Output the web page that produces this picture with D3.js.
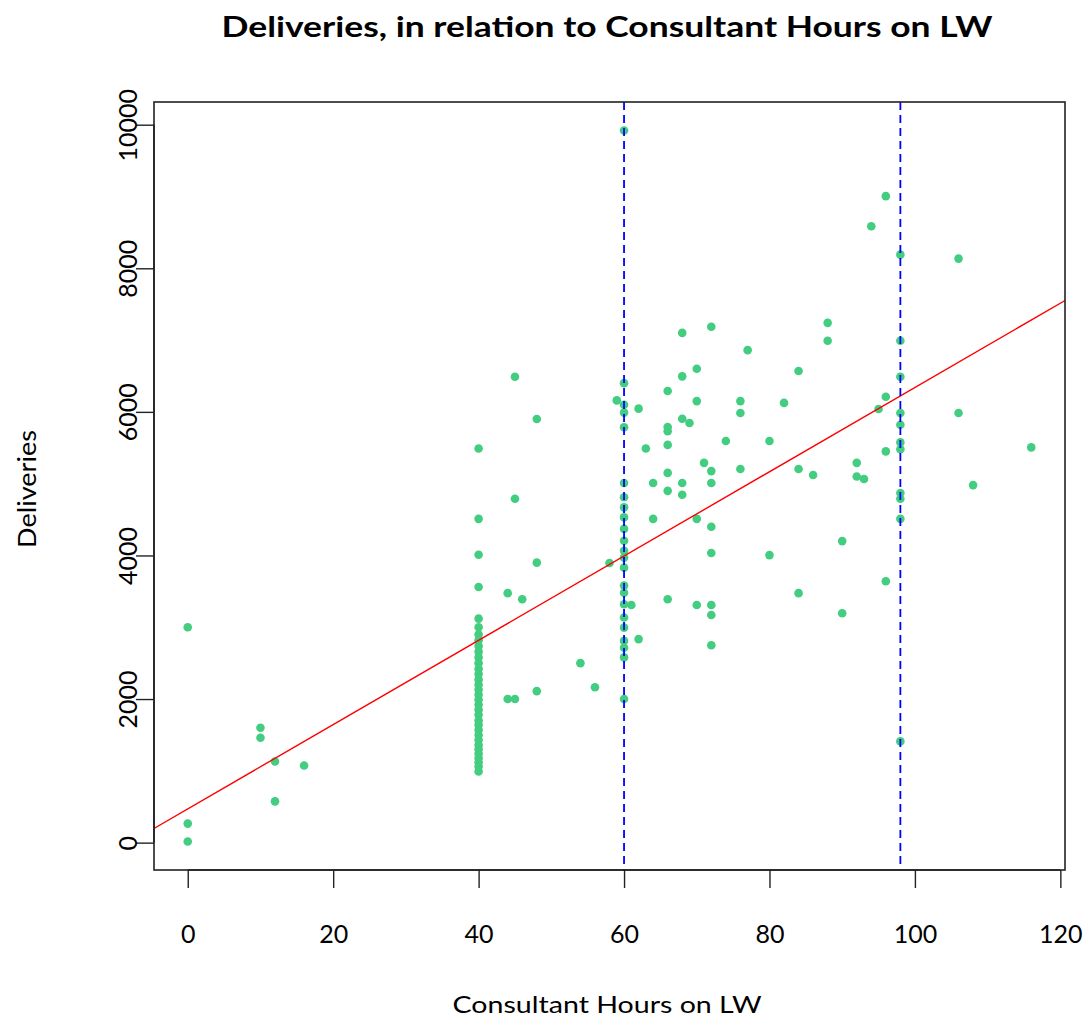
<!DOCTYPE html>
<html>
<head>
<meta charset="utf-8">
<script src="https://cdn.jsdelivr.net/npm/d3@7"></script>
<style>
  html, body { margin: 0; padding: 0; background: #fff; }
  svg { display: block; }
  text { font-family: Lato, "Open Sans", sans-serif; fill: #000; }
</style>
</head>
<body>
<svg id="chart" width="1090" height="1022"></svg>
<script>
// ---- Data ----
// scattered observations: hours and deliveries, aligned index by index
const scatterHours = [
  0, 0, 0, 10, 10, 12, 12, 16,
  44, 44, 45, 45, 45, 46, 48, 48, 48, 54, 56, 58, 59,
  61, 62, 62, 63, 64, 64,
  66, 66, 66, 66, 66, 66, 66,
  68, 68, 68, 68, 68, 69,
  70, 70, 70, 70, 71,
  72, 72, 72, 72, 72, 72, 72, 72,
  74, 76, 76, 76, 77, 80, 80, 82, 84, 84, 84, 86, 88, 88, 90, 90,
  92, 92, 93, 94, 95, 96, 96, 96, 96,
  106, 106, 108, 116
];
const scatterDeliveries = [
  3000, 265, 15, 1600, 1460, 1130, 575, 1075,
  3475, 2000, 6490, 4790, 2000, 3390, 5900, 3900, 2110, 2500, 2165, 3895, 6160,
  3310, 6045, 2835, 5490, 5010, 4510,
  6290, 5790, 5730, 5540, 5150, 4900, 3390,
  7100, 6495, 5905, 5010, 4845, 5845,
  6600, 6150, 4510, 3310, 5290,
  7185, 5175, 5010, 4400, 4035, 3310, 3170, 2750,
  5595, 6150, 5985, 5205, 6860, 5595, 4005, 6125, 6570, 5205, 3475, 5120, 7240, 6990, 4200, 3195,
  5290, 5100, 5065, 8585, 6040, 9005, 6210, 5450, 3640,
  8135, 5985, 4980, 5505
];
// observations stacked at 40, 60 and 98 hours
const deliveriesAt40 = [
  5490, 4510, 4010, 3560, 3120, 3000, 2900, 2820, 2740, 2660, 2580, 2500, 2420,
  2350, 2270, 2200, 2130, 2060, 1990, 1920, 1850, 1780, 1700, 1640, 1570, 1500,
  1430, 1360, 1300, 1240, 1180, 1120, 1060, 990
];
const deliveriesAt60 = [
  9920, 6400, 6100, 5990, 5785, 5010, 4810, 4670, 4530, 4370, 4205, 4065, 3970,
  3830, 3580, 3480, 3320, 3135, 2995, 2810, 2715, 2580, 2000
];
const deliveriesAt98 = [8190, 6990, 6490, 5985, 5820, 5575, 5480, 4870, 4790, 4510, 1410];

const xTicks = [0, 20, 40, 60, 80, 100, 120];
const yTicks = [0, 2000, 4000, 6000, 8000, 10000];
const vLines = [60, 98];
const fitIntercept = 470;
const fitSlope = 58.7;
const titleText = "Deliveries, in relation to Consultant Hours on LW";
const xLabel = "Consultant Hours on LW";
const yLabel = "Deliveries";

// ---- Build point table ----
const pts = scatterHours.map((h, i) => ({ h, d: scatterDeliveries[i] }))
  .concat(deliveriesAt40.map(d => ({ h: 40, d })))
  .concat(deliveriesAt60.map(d => ({ h: 60, d })))
  .concat(deliveriesAt98.map(d => ({ h: 98, d })));

// ---- Layout ----
const plot = { left: 154, top: 102, right: 1065, bottom: 870 };
const svg = d3.select("#chart");

const xMin = d3.min(pts, p => p.h), xMax = d3.max(pts, p => p.h);
const yMin = d3.min(pts, p => p.d), yMax = d3.max(pts, p => p.d);
const xPad = (xMax - xMin) * 0.04, yPad = (yMax - yMin) * 0.04;
const x = d3.scaleLinear().domain([xMin - xPad, xMax + xPad]).range([plot.left, plot.right]);
const y = d3.scaleLinear().domain([yMin - yPad, yMax + yPad]).range([plot.bottom, plot.top]);

svg.append("defs").append("clipPath").attr("id", "clip")
  .append("rect").attr("x", plot.left).attr("y", plot.top)
  .attr("width", plot.right - plot.left).attr("height", plot.bottom - plot.top);

// points
svg.append("g").selectAll("circle").data(pts).join("circle")
  .attr("cx", p => x(p.h)).attr("cy", p => y(p.d)).attr("r", 4.3)
  .attr("fill", "#43CD80");

// regression line
const xd = x.domain();
svg.append("line").attr("clip-path", "url(#clip)")
  .attr("x1", x(xd[0])).attr("y1", y(fitIntercept + fitSlope * xd[0]))
  .attr("x2", x(xd[1])).attr("y2", y(fitIntercept + fitSlope * xd[1]))
  .attr("stroke", "#FF0000").attr("stroke-width", 1.4);

// vertical dashed lines
svg.append("g").selectAll("line").data(vLines).join("line")
  .attr("x1", d => x(d)).attr("x2", d => x(d))
  .attr("y1", plot.top).attr("y2", plot.bottom)
  .attr("stroke", "#0000FF").attr("stroke-width", 1.8)
  .attr("stroke-dasharray", "8,5");

// box
svg.append("rect").attr("x", plot.left).attr("y", plot.top)
  .attr("width", plot.right - plot.left).attr("height", plot.bottom - plot.top)
  .attr("fill", "none").attr("stroke", "#222").attr("stroke-width", 1.6);

// axes
const xAxis = d3.axisBottom(x).tickValues(xTicks).tickSize(18).tickPadding(37).tickFormat(d3.format("d"));
const gx = svg.append("g").attr("transform", `translate(0,${plot.bottom})`).call(xAxis);
gx.select(".domain").attr("d", `M${x(xTicks[0])},0H${x(xTicks[xTicks.length-1])}`).attr("stroke", "#222").attr("stroke-width", 1.6);
gx.selectAll(".tick line").attr("stroke", "#222").attr("stroke-width", 1.4);
gx.selectAll(".tick text").attr("font-size", 25).attr("font-family", "Lato, sans-serif").attr("fill", "#111");

const yAxis = d3.axisLeft(y).tickValues(yTicks).tickSize(18).tickFormat(d3.format("d"));
const gy = svg.append("g").attr("transform", `translate(${plot.left},0)`).call(yAxis);
gy.select(".domain").attr("d", `M0,${y(yTicks[0])}V${y(yTicks[yTicks.length-1])}`).attr("stroke", "#222").attr("stroke-width", 1.6);
gy.selectAll(".tick line").attr("stroke", "#222").attr("stroke-width", 1.4);
gy.selectAll(".tick text")
  .attr("font-size", 25).attr("font-family", "Lato, sans-serif").attr("fill", "#111")
  .attr("x", null).attr("dy", null)
  .attr("text-anchor", "middle")
  .attr("transform", "translate(-17,0) rotate(-90)")
  .attr("y", 0);

// titles
svg.append("text").attr("x", 607).attr("y", 37)
  .attr("text-anchor", "middle").attr("font-size", 28).attr("font-weight", "bold")
  .attr("textLength", 771).attr("lengthAdjust", "spacingAndGlyphs")
  .text(titleText);
svg.append("text").attr("x", 607).attr("y", 1013)
  .attr("text-anchor", "middle").attr("font-size", 24).attr("fill", "#111")
  .attr("textLength", 309).attr("lengthAdjust", "spacingAndGlyphs")
  .text(xLabel);
svg.append("text").attr("transform", `translate(36,${489}) rotate(-90)`)
  .attr("text-anchor", "middle").attr("font-size", 25).attr("fill", "#111")
  .attr("textLength", 118).attr("lengthAdjust", "spacingAndGlyphs")
  .text(yLabel);
</script>
</body>
</html>
